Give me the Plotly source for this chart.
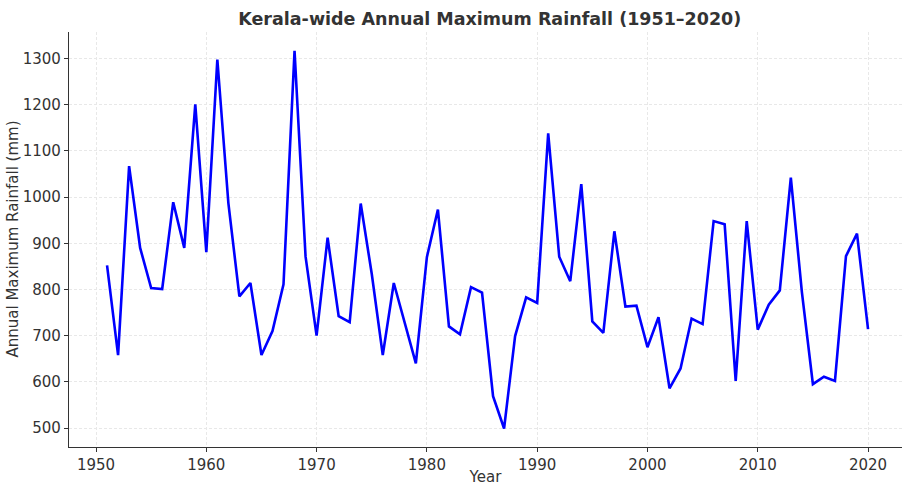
import plotly.graph_objects as go

years = list(range(1951, 2021))
rainfall = [
    852, 658, 1067, 890, 803, 801, 989, 890, 1201, 881,
    1298, 987, 785, 814, 658, 710, 811, 1317, 871, 700,
    912, 742, 729, 986, 834, 658, 814, 726, 640, 870,
    973, 720, 703, 805, 793, 569, 499, 699, 783, 771,
    1138, 871, 818, 1028, 731, 706, 926, 763, 765, 675,
    740, 586, 629, 737, 725, 948, 941, 602, 948, 713,
    767, 798, 1042, 795, 595, 611, 602, 872, 921, 714,
]
x_ticks = [1950, 1960, 1970, 1980, 1990, 2000, 2010, 2020]
y_ticks = [500, 600, 700, 800, 900, 1000, 1100, 1200, 1300]

fig = go.Figure()
fig.add_trace(go.Scatter(
    x=years, y=rainfall, mode="lines",
    line=dict(color="#0000ff", width=2.6),
    showlegend=False, hoverinfo="skip",
))

font = "DejaVu Sans, sans-serif"
fig.update_layout(
    width=902, height=486,
    margin=dict(l=69, r=0, t=32, b=39, autoexpand=False),
    paper_bgcolor="white", plot_bgcolor="white",
    title=dict(
        text="<b>Kerala-wide Annual Maximum Rainfall (1951–2020)</b>",
        x=0.543, xanchor="center", y=0.962, yanchor="middle",
        font=dict(family=font, size=17.5, color="#333333"),
    ),
    font=dict(family=font, size=15, color="#333333"),
)
fig.update_xaxes(
    range=[1947.55, 2023.08], tickvals=x_ticks, automargin=False,
    showline=True, linecolor="#333333", linewidth=1.2,
    ticks="outside", ticklen=4, tickcolor="#333333", tickwidth=1,
    showgrid=True, gridcolor="#e8e8e8", griddash="3px,2px", gridwidth=0.8,
    zeroline=False,
    title=dict(text="Year", font=dict(size=15)),
    tickfont=dict(size=15),
)
fig.update_yaxes(
    range=[458.9, 1357.5], tickvals=y_ticks, automargin=False,
    showline=True, linecolor="#333333", linewidth=1.2,
    ticks="outside", ticklen=4, tickcolor="#333333", tickwidth=1,
    showgrid=True, gridcolor="#e8e8e8", griddash="3px,2px", gridwidth=0.8,
    zeroline=False,
    tickfont=dict(size=15),
)
fig.add_annotation(
    text="Annual Maximum Rainfall (mm)", textangle=-90,
    xref="paper", yref="paper", x=(12 - 69) / 833, y=0.5,
    xanchor="center", yanchor="middle", showarrow=False,
    font=dict(family=font, size=15, color="#333333"),
)

fig.write_html(
    "out.html",
    config={"displayModeBar": False},
    post_script="document.body.style.margin='0';document.body.style.overflow='hidden';",
)
